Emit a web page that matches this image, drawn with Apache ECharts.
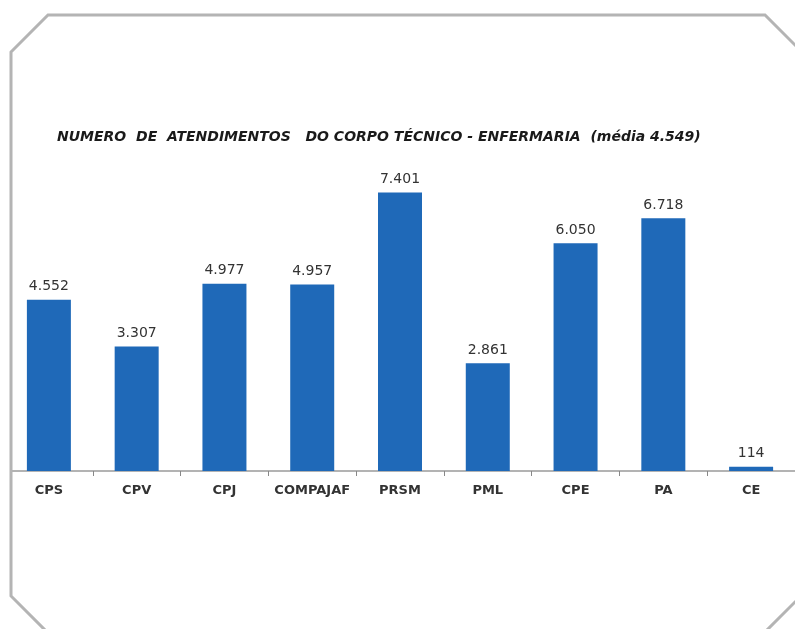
<!DOCTYPE html>
<html>
<head>
<meta charset="utf-8">
<script src="https://cdn.jsdelivr.net/npm/echarts@6/dist/echarts.min.js"></script>
<style>
  html, body { margin: 0; padding: 0; background: #fff; }
  #chart { width: 795px; height: 629px; }
</style>
</head>
<body>
<div id="chart"></div>
<script>
// unidades e número de atendimentos
const unidades = ["CPS", "CPV", "CPJ", "COMPAJAF", "PRSM", "PML", "CPE", "PA", "CE"];
const atendimentos = [4552, 3307, 4977, 4957, 7401, 2861, 6050, 6718, 114];

function fmt(v) {
  return String(v).replace(/\B(?=(\d{3})+(?!\d))/g, ".");
}

const myChart = echarts.init(document.getElementById("chart"));
let option = {
  backgroundColor: "#fff",
  animation: false,
  title: {
    text: "{b|NUMERO  DE  ATENDIMENTOS   DO CORPO TÉCNICO - ENFERMARIA}{n|  (média 4.549)}",
    left: 52,
    top: 125,
    textStyle: {
      rich: {
        b: {
          fontFamily: "DejaVu Sans",
          fontSize: 14,
          fontWeight: "bold",
          fontStyle: "italic",
          color: "#1a1a1a"
        },
        n: {
          fontFamily: "DejaVu Sans",
          fontSize: 14,
          fontStyle: "italic",
          color: "#1a1a1a"
        }
      }
    }
  },
  grid: {
    left: 5,
    width: 805,
    top: 170,
    bottom: 158
  },
  xAxis: {
    type: "category",
    data: unidades,
    boundaryGap: true,
    axisLine: { lineStyle: { color: "#9a9a9a", width: 1.5 } },
    axisTick: { show: true, length: 5, lineStyle: { color: "#888", width: 1 } },
    axisLabel: {
      interval: 0,
      margin: 13,
      fontFamily: "DejaVu Sans",
      fontSize: 13,
      fontWeight: "bold",
      color: "#333"
    }
  },
  yAxis: {
    type: "value",
    min: 0,
    max: 8000,
    show: false,
    splitLine: { show: false }
  },
  series: [
    {
      type: "bar",
      data: atendimentos,
      barWidth: 44,
      itemStyle: { color: "#1f69b8" },
      label: {
        show: true,
        position: "top",
        distance: 6,
        fontFamily: "DejaVu Sans",
        fontSize: 14,
        color: "#333",
        formatter: p => fmt(p.value)
      }
    }
  ],
  graphic: [
    {
      type: "rect",
      shape: { x: 0, y: 0, width: 10, height: 629 },
      style: { fill: "#fff" },
      z: 100
    },
    {
      type: "polygon",
      shape: {
        points: [[11, 52], [48, 15], [765, 15], [800, 50], [800, 597], [766, 631], [46, 631], [11, 596]]
      },
      style: { fill: null, stroke: "#b4b4b4", lineWidth: 3 },
      z: 101
    }
  ]
};
myChart.setOption(option);
</script>
</body>
</html>
